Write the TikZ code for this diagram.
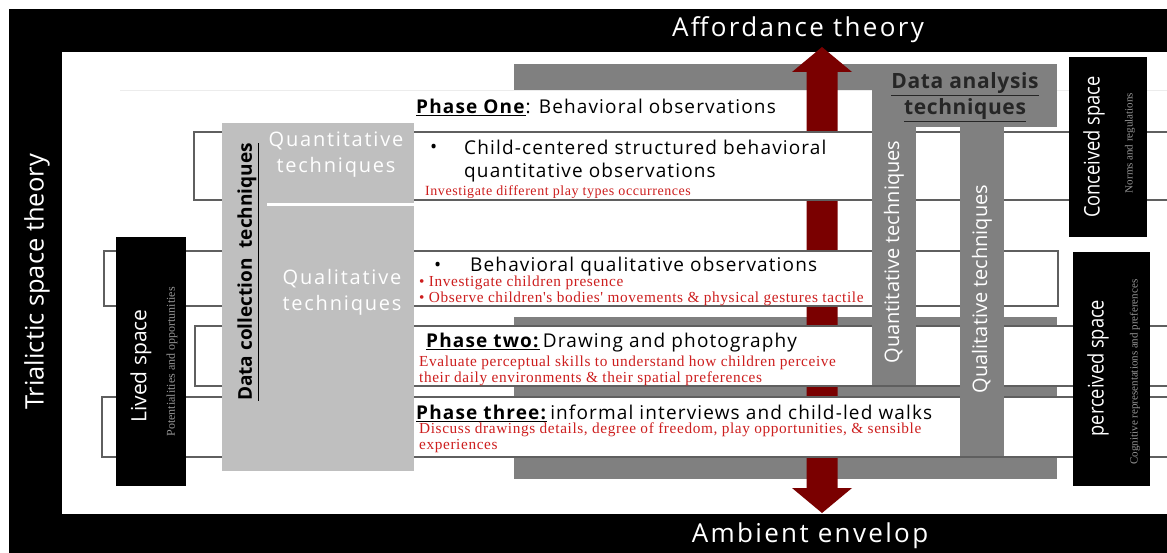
\documentclass[tikz,border=0pt]{standalone}
\usepackage{fontspec}
\setmainfont{Open Sans}
\newfontfamily\redserif[LetterSpace=4]{Liberation Serif}
\newfontfamily\plainserif{Liberation Serif}
\newfontfamily\narrowsans[FakeStretch=0.85]{Open Sans}
\newfontfamily\headsans[LetterSpace=3]{Open Sans}
\newfontfamily\widesans[LetterSpace=6]{Open Sans}
\newfontfamily\widersans[LetterSpace=9]{Open Sans}
\definecolor{barGray}{RGB}{128,128,128}
\definecolor{boxGray}{RGB}{191,191,191}
\definecolor{lineGray}{RGB}{95,95,95}
\definecolor{arrowRed}{RGB}{122,0,0}
\definecolor{noteRed}{RGB}{205,30,30}
\definecolor{subGray}{RGB}{150,150,150}

\begin{document}
\begin{tikzpicture}[x=1pt,y=-1pt,
  rowbox/.style={draw=lineGray,line width=1.2pt,fill=white},
  band/.style={white,font=\widersans\fontsize{26}{30}\selectfont},
  phase/.style={anchor=west,inner sep=0pt,font=\widesans\fontsize{19}{23}\selectfont},
  note/.style={anchor=west,inner sep=0pt,noteRed,align=left,font=\redserif\fontsize{15.3}{16}\selectfont},
  spacetitle/.style={rotate=90,white,font=\narrowsans\fontsize{21.5}{24}\selectfont},
  spacenote/.style={rotate=90,subGray,font=\plainserif\fontsize{11}{12}\selectfont},
  coltitle/.style={rotate=90,white,font=\fontsize{20}{24}\selectfont},
  techtitle/.style={white,align=center,font=\widersans\fontsize{20}{26}\selectfont}]
\useasboundingbox (0,0) rectangle (1167,553);
% outer theory frame
\fill[black] (9,9) rectangle (1167,553);
\fill[white] (62,52) rectangle (1167,514);
\draw[gray!15] (120,90) -- (1167,90);
\node[band] (afford) at (798,30) {Affordance theory};
\node[band] (ambient) at (810,536) {Ambient envelop};
\node[white,rotate=90,font=\fontsize{25.5}{30}\selectfont] (trialectic) at (37,282) {Trialictic space theory};
% data analysis background
\fill[barGray] (514,64) rectangle (1057,90);
\fill[barGray] (872,64) rectangle (1057,127);
\fill[barGray] (514,317) rectangle (1057,479);
% red double arrow
\fill[arrowRed] (822,47) -- (852,72) -- (837.5,72) -- (837.5,488) -- (852,488)
  -- (822,513) -- (792,488) -- (806.5,488) -- (806.5,72) -- (792,72) -- cycle;
% phase rows
\draw[rowbox] (1170,132) -- (194,132) -- (194,200) -- (1170,200);
\draw[rowbox] (104,251) rectangle (1058,306);
\draw[rowbox] (1170,326) -- (195,326) -- (195,386) -- (1170,386);
\draw[rowbox] (1170,397) -- (102,397) -- (102,457) -- (1170,457);
% analysis columns
\fill[barGray] (872,64) rectangle (916,385);
\fill[barGray] (960,64) rectangle (1004,456);
\node[coltitle] (quantcol) at (894,252) {Quantitative techniques};
\node[coltitle] (qualcol) at (982,289) {Qualitative techniques};
\node[align=center,text=black!85,font=\headsans\bfseries\fontsize{21}{26}\selectfont] (analysis) at (965,97)
  {\underline{Data analysis}\\\underline{techniques}};
% data collection box
\fill[boxGray] (222,123) rectangle (414,471);
\draw[white,line width=3pt] (267,205) -- (414,205);
\node[rotate=90,font=\bfseries\fontsize{19}{24}\selectfont] (collection) at (248,272)
  {\underline{Data collection\ \ techniques}};
\node[techtitle] (quanttech) at (336,155) {Quantitative\\techniques};
\node[techtitle] (qualtech) at (342,292) {Qualitative\\techniques};
% space boxes
\fill[black] (116,237) rectangle (186,486);
\node[white,rotate=90,font=\fontsize{21}{24}\selectfont] (lived) at (141,366) {Lived space};
\node[spacenote,font=\plainserif\fontsize{12}{12}\selectfont] (livednote) at (172,362) {Potentialities and opportunities};
\fill[black] (1069,57) rectangle (1147,237);
\node[spacetitle] (conceived) at (1094,147) {Conceived space};
\node[spacenote] (conceivednote) at (1130,143) {Norms and regulations};
\fill[black] (1073,252) rectangle (1150,486);
\node[spacetitle] (perceived) at (1098,368) {perceived space};
\node[spacenote] (perceivednote) at (1135,372) {Cognitive representations and preferences};
% row texts
\node[phase] (phaseone) at (416,107) {\underline{\textbf{Phase One}}: Behavioral observations};
\node[phase] (bulletA) at (430,149) {\textbullet};
\node[phase,align=left] (quantobs) at (464,161) {Child-centered structured behavioral\\quantitative observations};
\node[note,font=\redserif\fontsize{14}{16}\selectfont] (noteA) at (425,192) {Investigate different play types occurrences};
\node[phase] (bulletB) at (434,267) {\textbullet};
\node[phase] (qualobs) at (470,267) {Behavioral qualitative observations};
\node[note] (noteB) at (419,291) {\textbullet\ Investigate children presence\\\textbullet\ Observe children's bodies' movements \& physical gestures tactile};
\node[phase] (phasetwo) at (426,343) {\underline{\textbf{Phase two:}}\,Drawing and photography};
\node[note] (noteC) at (419,371) {Evaluate perceptual skills to understand how children perceive\\their daily environments \& their spatial preferences};
\node[phase] (phasethree) at (416,413) {\underline{\textbf{Phase three:}}\,informal interviews and child-led walks};
\node[note] (noteD) at (419,438) {Discuss drawings details, degree of freedom, play opportunities, \& sensible\\experiences};
\end{tikzpicture}
\end{document}
